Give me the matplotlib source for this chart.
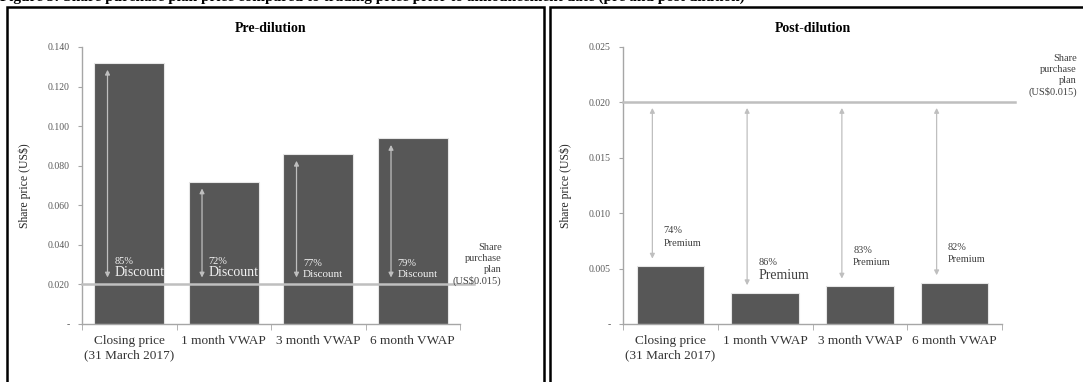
import matplotlib.pyplot as plt
from matplotlib.patches import Rectangle

plt.rcParams['font.family'] = ['Liberation Serif', 'DejaVu Serif']

categories = ['Closing price\n(31 March 2017)', '1 month VWAP', '3 month VWAP', '6 month VWAP']
pre_prices = [0.132, 0.072, 0.086, 0.094]
post_prices = [0.0052, 0.0028, 0.0034, 0.0037]
plan_pre = 0.020
plan_post = 0.020
pre_labels = ['85%', '72%', '77%', '79%']
post_labels = ['74%', '86%', '83%', '82%']
pre_ticks = [0.0, 0.020, 0.040, 0.060, 0.080, 0.100, 0.120, 0.140]
post_ticks = [0.0, 0.005, 0.010, 0.015, 0.020, 0.025]

BAR = '#575757'
LINE = '#bfbfbf'
AXC = '#a6a6a6'
TXT = '#404040'


def style_axes(ax, ticks, fmt):
    for s in ['top', 'right']:
        ax.spines[s].set_visible(False)
    for s in ['left', 'bottom']:
        ax.spines[s].set_color(AXC)
        ax.spines[s].set_linewidth(1.0)
    ax.set_yticks(ticks)
    ax.set_yticklabels(['-' if t == 0 else fmt.format(t) for t in ticks],
                       fontsize=7, color='#595959')
    ax.tick_params(axis='y', length=3, color=AXC, pad=6)
    ax.set_xlim(-0.5, 3.5)
    ax.set_xticks([0, 1, 2, 3])
    ax.set_xticklabels(categories, fontsize=9.5, color='#333333')
    ax.tick_params(axis='x', length=0, pad=8)
    ax.set_xticks([-0.5, 0.5, 1.5, 2.5, 3.5], minor=True)
    ax.tick_params(axis='x', which='minor', length=4, color=AXC)
    ax.set_ylabel('Share price (US$)', fontsize=8.5, color='#262626', labelpad=12)


fig = plt.figure(figsize=(10.83, 3.82), dpi=100)

# panel frames
fig.patches.append(Rectangle((7 / 1083, -0.05), 537 / 1083, 1.05 - 7 / 382,
                             transform=fig.transFigure, fill=False, ec='black', lw=1.8))
fig.patches.append(Rectangle((550 / 1083, -0.05), 540 / 1083, 1.05 - 7 / 382,
                             transform=fig.transFigure, fill=False, ec='black', lw=1.8))

fig.text(0.0, 1.0 + 0.026,
         'Figure 3: Share purchase plan price compared to trading price prior to announcement date (pre and post dilution)',
         fontsize=11, fontweight='bold', ha='left', va='top', color='black')

# Pre-dilution
ax1 = fig.add_axes([82 / 1083, 1 - 324 / 382, 378 / 1083, (324 - 47) / 382])
x = range(len(categories))
ax1.bar(x, pre_prices, width=0.74, color=BAR, edgecolor='#e6e6e6', linewidth=0.8, zorder=2)
ax1.set_ylim(0, 0.140)
style_axes(ax1, pre_ticks, '{:.3f}')
ax1.plot([-0.5, 3.65], [plan_pre, plan_pre], color=LINE, lw=1.8, clip_on=False, zorder=3)
for i, (v, lab) in enumerate(zip(pre_prices, pre_labels)):
    ax1.annotate('', xy=(i - 0.23, plan_pre + 0.0035), xytext=(i - 0.23, v - 0.0035),
                 arrowprops=dict(arrowstyle='<|-|>', color=LINE, lw=0.9,
                                 mutation_scale=7, shrinkA=0, shrinkB=0), zorder=4)
    big = 10 if i < 2 else 8
    ax1.text(i - 0.16, plan_pre + 0.0025, 'Discount', fontsize=big, color='#f2f2f2',
             ha='left', va='bottom', zorder=5)
    ax1.text(i - 0.16, plan_pre + 0.0025 + (0.0068 if i < 2 else 0.0058), lab,
             fontsize=7.5, color='#f2f2f2', ha='left', va='bottom', zorder=5)
ax1.text(3.94, plan_pre + 0.010, 'Share\npurchase\nplan\n(US$0.015)', fontsize=7.5,
         color=TXT, ha='right', va='center', linespacing=1.25)
ax1.set_title('Pre-dilution', fontsize=10, fontweight='bold', pad=11)

# Post-dilution
ax2 = fig.add_axes([623 / 1083, 1 - 324 / 382, 379 / 1083, (324 - 47) / 382])
ax2.bar(x, post_prices, width=0.71, color=BAR, edgecolor='#e6e6e6', linewidth=0.8, zorder=2)
ax2.set_ylim(0, 0.025)
style_axes(ax2, post_ticks, '{:.3f}')
ax2.plot([-0.5, 3.64], [plan_post, plan_post], color=LINE, lw=1.8, clip_on=False, zorder=3)
for i, (v, lab) in enumerate(zip(post_prices, post_labels)):
    ax2.annotate('', xy=(i - 0.19, v + 0.0007), xytext=(i - 0.19, plan_post - 0.0005),
                 arrowprops=dict(arrowstyle='<|-|>', color=LINE, lw=0.9,
                                 mutation_scale=7, shrinkA=0, shrinkB=0), zorder=4)
    big = 10 if i == 1 else 7.5
    base = v + (0.0010 if i == 1 else 0.0017)
    ax2.text(i - 0.07, base, 'Premium', fontsize=big, color=TXT, ha='left', va='bottom')
    ax2.text(i - 0.07, base + (0.0013 if i == 1 else 0.0011), lab, fontsize=7.5,
             color=TXT, ha='left', va='bottom')
ax2.text(4.29, plan_post + 0.0024, 'Share\npurchase\nplan\n(US$0.015)', fontsize=7.5,
         color=TXT, ha='right', va='center', linespacing=1.25)
ax2.set_title('Post-dilution', fontsize=10, fontweight='bold', pad=11)

fig.savefig('out.png', dpi=100)
